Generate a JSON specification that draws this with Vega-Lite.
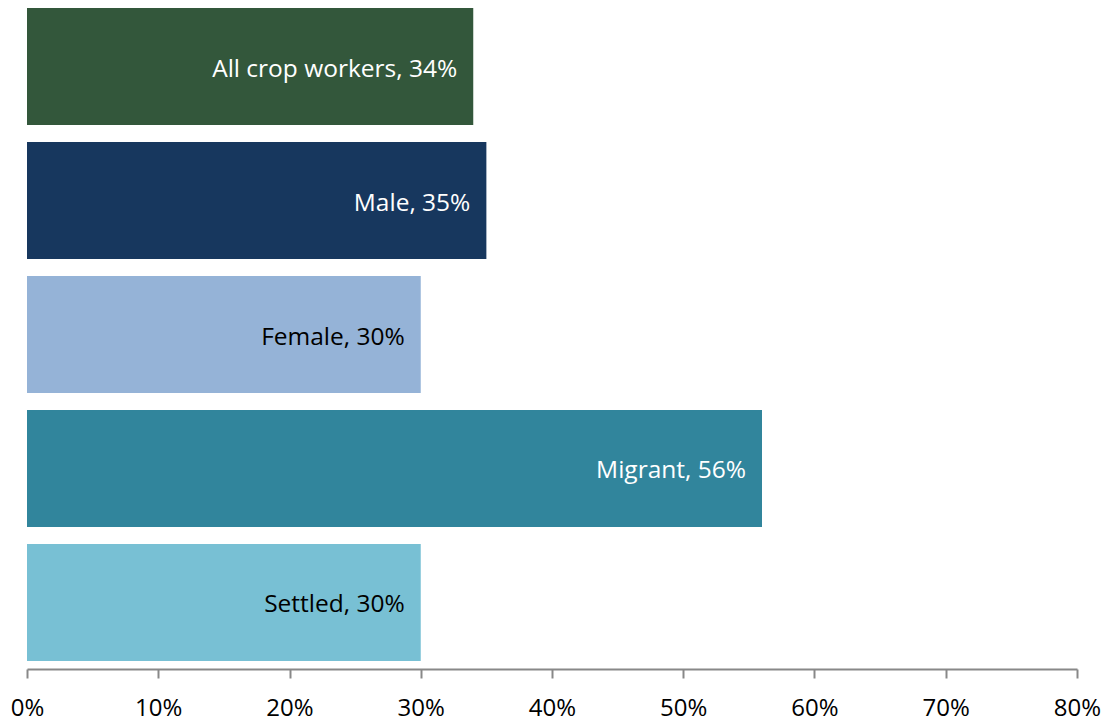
{
  "$schema": "https://vega.github.io/schema/vega-lite/v6.json",
  "width": 1050,
  "height": 669,
  "autosize": "none",
  "padding": {"left": 27, "top": 0, "right": 31, "bottom": 54},
  "background": "white",
  "config": {"view": {"stroke": null}, "font": "Open Sans"},
  "data": {"values": [
    {"group": "All crop workers", "value": 0.34, "label": "All crop workers, 34%"},
    {"group": "Male", "value": 0.35, "label": "Male, 35%"},
    {"group": "Female", "value": 0.30, "label": "Female, 30%"},
    {"group": "Migrant", "value": 0.56, "label": "Migrant, 56%"},
    {"group": "Settled", "value": 0.30, "label": "Settled, 30%"}
  ]},
  "encoding": {
    "y": {"field": "group", "type": "nominal", "sort": null,
          "scale": {"paddingInner": 0.127, "paddingOuter": 0.06}, "axis": null},
    "x": {"field": "value", "type": "quantitative",
          "scale": {"domain": [0, 0.8], "nice": false, "zero": true},
          "axis": {"values": [0, 0.1, 0.2, 0.3, 0.4, 0.5, 0.6, 0.7, 0.8], "format": ".0%",
                   "title": null, "grid": false, "domainColor": "#888888", "domainWidth": 2,
                   "tickColor": "#888888", "tickWidth": 2, "tickSize": 9,
                   "labelFont": "Open Sans", "labelFontSize": 24, "labelColor": "#000000",
                   "labelPadding": 18, "labelFlush": false, "labelOverlap": false}}
  },
  "layer": [
    {"mark": {"type": "bar"},
     "encoding": {"color": {"field": "group", "type": "nominal", "legend": null,
       "scale": {"domain": ["All crop workers", "Male", "Female", "Migrant", "Settled"],
                 "range": ["#33573B", "#17375E", "#95B3D7", "#31859C", "#78C0D4"]}}}},
    {"mark": {"type": "text", "align": "right", "baseline": "middle", "dx": -16, "dy": 3,
              "fontSize": 24.5, "font": "Open Sans"},
     "encoding": {"text": {"field": "label"},
       "color": {"condition": {"test": "datum.group === 'Female' || datum.group === 'Settled'", "value": "#000000"}, "value": "#ffffff"}}}
  ]
}
